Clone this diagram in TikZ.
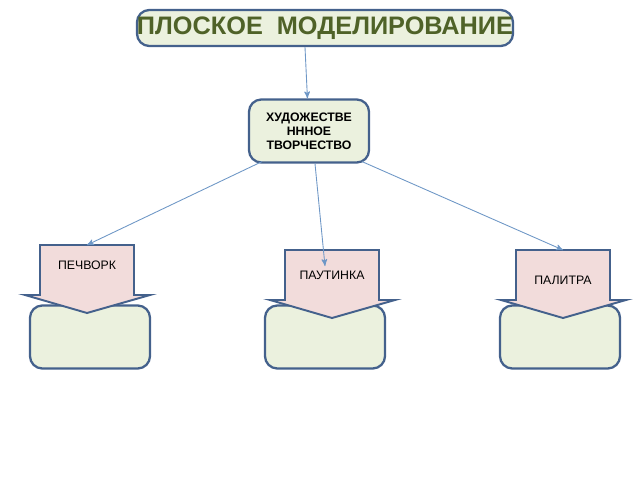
\documentclass[tikz,border=0pt]{standalone}
\usepackage{fontspec}
\setmainfont{Liberation Sans}
\usetikzlibrary{calc,positioning,arrows}
\definecolor{boxgreen}{HTML}{EBF1DE}
\definecolor{boxline}{HTML}{44618C}
\definecolor{calpink}{HTML}{F2DCDB}
\definecolor{conline}{HTML}{6E97C6}
\definecolor{titlegreen}{HTML}{4F6228}
\tikzset{
	greenbox/.style={draw=boxline,line width=1.3pt,fill=boxgreen,rounded corners=7pt,inner sep=0pt},
	callshape/.style={draw=boxline,line width=1.1pt,fill=calpink},
	conn/.style={draw=conline,line width=0.5pt,->,>=stealth'}
}
% callout: name, left x, top y, label, label y
\newcommand{\calloutbox}[5]{
	\fill[callshape] (#2,#3) -- (#2+94,#3) -- (#2+94,#3+50) -- (#2+110,#3+50)
		-- (#2+47,#3+68) -- (#2-15,#3+50) -- (#2,#3+50) -- cycle;
	\node[font=\scriptsize] (#1) at (#2+47,#5) {#4};
	\coordinate (#1top) at (#2+47,#3);
}
\begin{document}
\begin{tikzpicture}[x=0.02cm,y=-0.02cm]
	\useasboundingbox (0,0) rectangle (640,480);

	\node[greenbox,minimum width=350*0.02cm,minimum height=36*0.02cm,
		font=\bfseries\Large,text=titlegreen] (title) at (325,28) {ПЛОСКОЕ\ \ МОДЕЛИРОВАНИЕ};
	\node[greenbox,minimum width=120*0.02cm,minimum height=63*0.02cm,align=center,
		font=\bfseries\scriptsize] (art) at (309,131) {ХУДОЖЕСТВЕ\\НННОЕ\\ТВОРЧЕСТВО};

	% lower boxes
	\node[greenbox,minimum width=120*0.02cm,minimum height=63*0.02cm] (boxa) at (90,337) {};
	\node[greenbox,minimum width=120*0.02cm,minimum height=63*0.02cm] (boxb) at (325,337) {};
	\node[greenbox,minimum width=120*0.02cm,minimum height=63*0.02cm] (boxc) at (560,337) {};

	% callouts
	\calloutbox{patch}{40}{245}{ПЕЧВОРК}{265}
	\calloutbox{web}{285}{250}{ПАУТИНКА}{275}
	\calloutbox{palette}{516}{250}{ПАЛИТРА}{280}
	\coordinate (webend) at (325,266);

	% connectors
	\draw[conn] (title.south -| 305,0) -- (art);
	\draw[conn] (art.south west) ++(14,-2) -- (patchtop);
	\draw[conn] (art.south) ++(6,0) -- (webend);
	\draw[conn] (art.south east) ++(-8,-2) -- (palettetop);
\end{tikzpicture}
\end{document}
